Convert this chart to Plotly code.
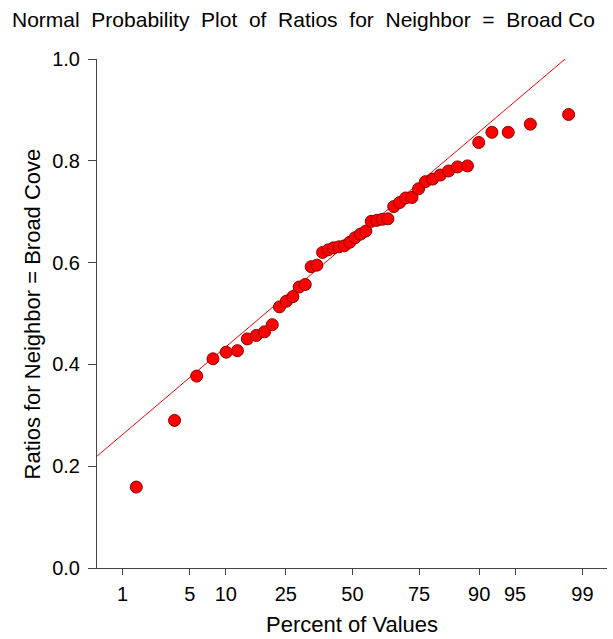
import plotly.graph_objects as go
from statistics import NormalDist

# Sorted ratios
ratios = [0.159, 0.290, 0.377, 0.411, 0.424, 0.427, 0.450, 0.457, 0.464, 0.478,
          0.513, 0.524, 0.533, 0.552, 0.557, 0.592, 0.595, 0.620, 0.625, 0.629,
          0.631, 0.633, 0.640, 0.649, 0.656, 0.662, 0.681, 0.683, 0.685, 0.686,
          0.710, 0.718, 0.727, 0.728, 0.745, 0.759, 0.764, 0.772, 0.780, 0.788,
          0.790, 0.836, 0.856, 0.856, 0.872, 0.891]

# Reference line (value = intercept + slope * normal score)
line_intercept = 0.6455
line_slope = 0.1648

percent_ticks = [1, 5, 10, 25, 50, 75, 90, 95, 99]
y_ticks = [0.0, 0.2, 0.4, 0.6, 0.8, 1.0]

nd = NormalDist()
n = len(ratios)
scores = [nd.inv_cdf((i - 1/3) / (n + 1/3)) for i in range(1, n + 1)]
tick_z = [nd.inv_cdf(p / 100) for p in percent_ticks]

x_range = [-2.584, 2.575]
line_x = [x_range[0], x_range[1]]
line_y = [line_intercept + line_slope * z for z in line_x]

FONT = "Liberation Sans, Arial, sans-serif"
AX = "#444444"

fig = go.Figure()
fig.add_trace(go.Scatter(x=line_x, y=line_y, mode="lines",
                         line=dict(color="#ff0000", width=1), hoverinfo="skip"))
fig.add_trace(go.Scatter(x=scores, y=ratios, mode="markers",
                         marker=dict(size=12, color="#ff0000",
                                     line=dict(color="#8b0000", width=1)),
                         cliponaxis=False))

fig.update_layout(
    width=613, height=639,
    margin=dict(l=97, r=6, t=59, b=71),
    paper_bgcolor="white", plot_bgcolor="white",
    showlegend=False,
    font=dict(family=FONT, color="black", size=20),
    title=dict(text="Normal\u00a0\u00a0Probability\u00a0\u00a0Plot\u00a0\u00a0of\u00a0\u00a0Ratios\u00a0\u00a0for\u00a0\u00a0Neighbor\u00a0\u00a0=\u00a0\u00a0Broad Co",
               xref="container", yref="container", x=12/613, xanchor="left",
               y=1 - 20/639, yanchor="middle",
               font=dict(family=FONT, size=21, color="black")),
    xaxis=dict(range=x_range, tickmode="array", tickvals=tick_z,
               ticktext=[str(p) for p in percent_ticks],
               showgrid=False, zeroline=False, showline=True, linecolor=AX, linewidth=1,
               ticks="outside", ticklen=6, tickcolor=AX, tickwidth=1,
               tickfont=dict(size=20), ticklabelstandoff=2),
    yaxis=dict(range=[0, 1], tickmode="array", tickvals=y_ticks,
               ticktext=[f"{v:.1f}" for v in y_ticks],
               showgrid=False, zeroline=False, showline=True, linecolor=AX, linewidth=1,
               ticks="outside", ticklen=8, tickcolor=AX, tickwidth=1,
               tickfont=dict(size=20), ticklabelstandoff=4),
    annotations=[
        dict(text="Percent of Values", xref="paper", yref="paper",
             x=0.5, y=(567.7 - 624) / 508.4, xanchor="center", yanchor="middle",
             showarrow=False, font=dict(size=22)),
        dict(text="Ratios for Neighbor = Broad Cove", xref="paper", yref="paper",
             x=(33 - 97) / 509.7, y=0.5, xanchor="center", yanchor="middle",
             textangle=-90, showarrow=False, font=dict(size=22)),
    ],
)

fig.write_html("out.html")
